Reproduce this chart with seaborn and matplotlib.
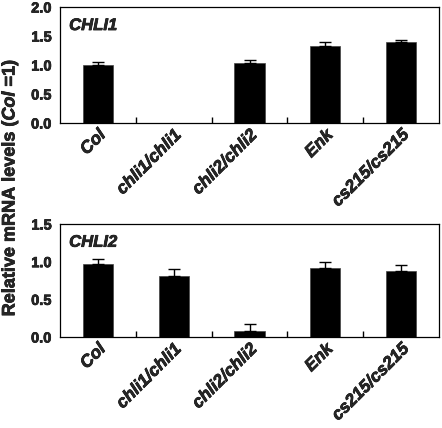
import matplotlib
matplotlib.use("Agg")
import matplotlib.pyplot as plt
import matplotlib.patheffects as pe
import seaborn as sns
import pandas as pd
import numpy as np
from matplotlib.ticker import FixedLocator

sns.set_style("ticks")
plt.rcParams['font.family'] = ['Liberation Sans', 'DejaVu Sans']
plt.rcParams['font.weight'] = 'bold'
plt.rcParams['mathtext.fontset'] = 'custom'
plt.rcParams['mathtext.it'] = 'Liberation Sans:italic:bold'
plt.rcParams['mathtext.rm'] = 'Liberation Sans:bold'

genotypes = ["Col", "chli1/chli1", "chli2/chli2", "Enk", "cs215/cs215"]
chli1_vals = [1.00, 0.0, 1.03, 1.33, 1.39]
chli1_err = [0.05, 0.0, 0.06, 0.07, 0.045]
chli2_vals = [0.965, 0.815, 0.085, 0.915, 0.88]
chli2_err = [0.075, 0.085, 0.085, 0.075, 0.075]

panels = [
    ("CHLI1", chli1_vals, chli1_err, 2.0, [0.0, 0.5, 1.0, 1.5, 2.0]),
    ("CHLI2", chli2_vals, chli2_err, 1.5, [0.0, 0.5, 1.0, 1.5]),
]

heavy = [pe.withStroke(linewidth=0.5, foreground="black")]

fig = plt.figure(figsize=(4.42, 4.28), dpi=100)
rects = [
    [60/442, 1-123/428, 379/442, 116/428],
    [60/442, 1-337/428, 379/442, 113/428],
]

for rect, (title, vals, errs, ymax, yt) in zip(rects, panels):
    ax = fig.add_axes(rect)
    df = pd.DataFrame({"genotype": genotypes, "level": vals})
    sns.barplot(data=df, x="genotype", y="level", color="black", width=0.4,
                edgecolor="#444444", linewidth=0.5, ax=ax, errorbar=None,
                saturation=1)
    xs = np.arange(len(genotypes))
    v = np.array(vals)
    e = np.array(errs)
    mask = v > 0
    ax.errorbar(xs[mask], v[mask], yerr=[np.zeros(mask.sum()), e[mask]],
                fmt="none", ecolor="black", elinewidth=1.0, capsize=4, capthick=1.0)
    ax.set_xlim(-0.5, len(genotypes) - 0.5)
    ax.set_ylim(0, ymax)
    ax.set_yticks(yt)
    ax.set_yticklabels([f"{t:.1f}" for t in yt], fontsize=10.5, fontweight="bold")
    ax.tick_params(axis="y", length=0, pad=6)
    ax.set_xticks(xs)
    ax.set_xticklabels(genotypes, rotation=45, ha="right", va="top", rotation_mode="anchor",
                       fontsize=12.5, fontweight="bold", fontstyle="italic")
    ax.tick_params(axis="x", which="major", length=0, pad=3)
    ax.xaxis.set_minor_locator(FixedLocator(xs[:-1] + 0.5))
    ax.tick_params(axis="x", which="minor", direction="in", length=4, width=1, color="black")
    for lab in ax.get_xticklabels() + ax.get_yticklabels():
        lab.set_path_effects(heavy)
    ax.set_xlabel("")
    ax.set_ylabel("")
    for s in ax.spines.values():
        s.set_visible(True)
        s.set_color("black")
        s.set_linewidth(0.9)
    ax.text(0.024, 0.905, title, transform=ax.transAxes, ha="left", va="top",
            fontsize=12, fontweight="bold", fontstyle="italic", path_effects=heavy)

fig.text(10/442, 1-188/428, r"Relative mRNA levels ($\mathit{Col}$ =1)", rotation=90,
         ha="center", va="center", fontsize=13, fontweight="bold", path_effects=heavy)

fig.savefig("out.png", dpi=100)
